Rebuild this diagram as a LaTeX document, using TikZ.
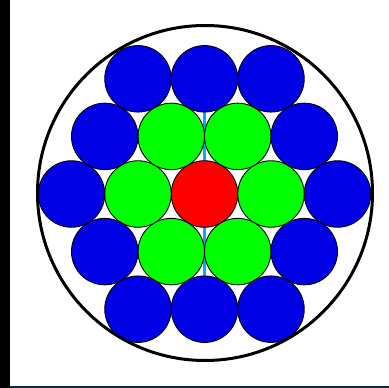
\documentclass[tikz,border=0pt]{standalone}
\usepackage{tikz}
\usepackage{xcolor}
\usetikzlibrary{calc}

\definecolor{wireblue}{RGB}{0,0,228}
\definecolor{stripnavy}{RGB}{22,38,70}

\begin{document}
\begin{tikzpicture}[
            x=1pt, y=-1pt,
            strand/.style={
                circle,
                draw=black,
                line width=0.9pt,
                minimum size=66.5pt,
                inner sep=0pt
            },
            core/.style={strand,fill=red},
            inner/.style={strand,fill=green},
            outer/.style={strand,fill=wireblue},
            jacket/.style={draw=black,line width=3pt},
            gapline/.style={draw=cyan,line width=2.5pt}
        ]
            % frame of the picture
            \fill[white] (0,0) rectangle (389,388);
            \fill[black] (0,0) rectangle (10,388);
            \fill[stripnavy] (10,386) rectangle (389,388);
            \useasboundingbox (0,0) rectangle (389,388);

            \begin{scope}[shift={(204.5,194)}]
                \coordinate (top) at (90:115.2);
                \coordinate (bottom) at (270:115.2);
                \draw[gapline] (top) -- (bottom);

                % centre wire and first layer
                \node[core] (c0) at (0,0) {};
                \foreach \i in {1,...,6}
                    \node[inner] (g\i) at ({60*(\i-1)}:66.5) {};

                % second layer
                \foreach \i in {1,...,6} {
                    \node[outer] (b\i) at ({60*(\i-1)}:133) {};
                    \node[outer] (e\i) at ({60*(\i-1)+30}:115.2) {};
                }
            \end{scope}

            \node[jacket,circle,minimum size=335pt,inner sep=0pt] (sheath) at (205,193) {};
        \end{tikzpicture}
\end{document}
